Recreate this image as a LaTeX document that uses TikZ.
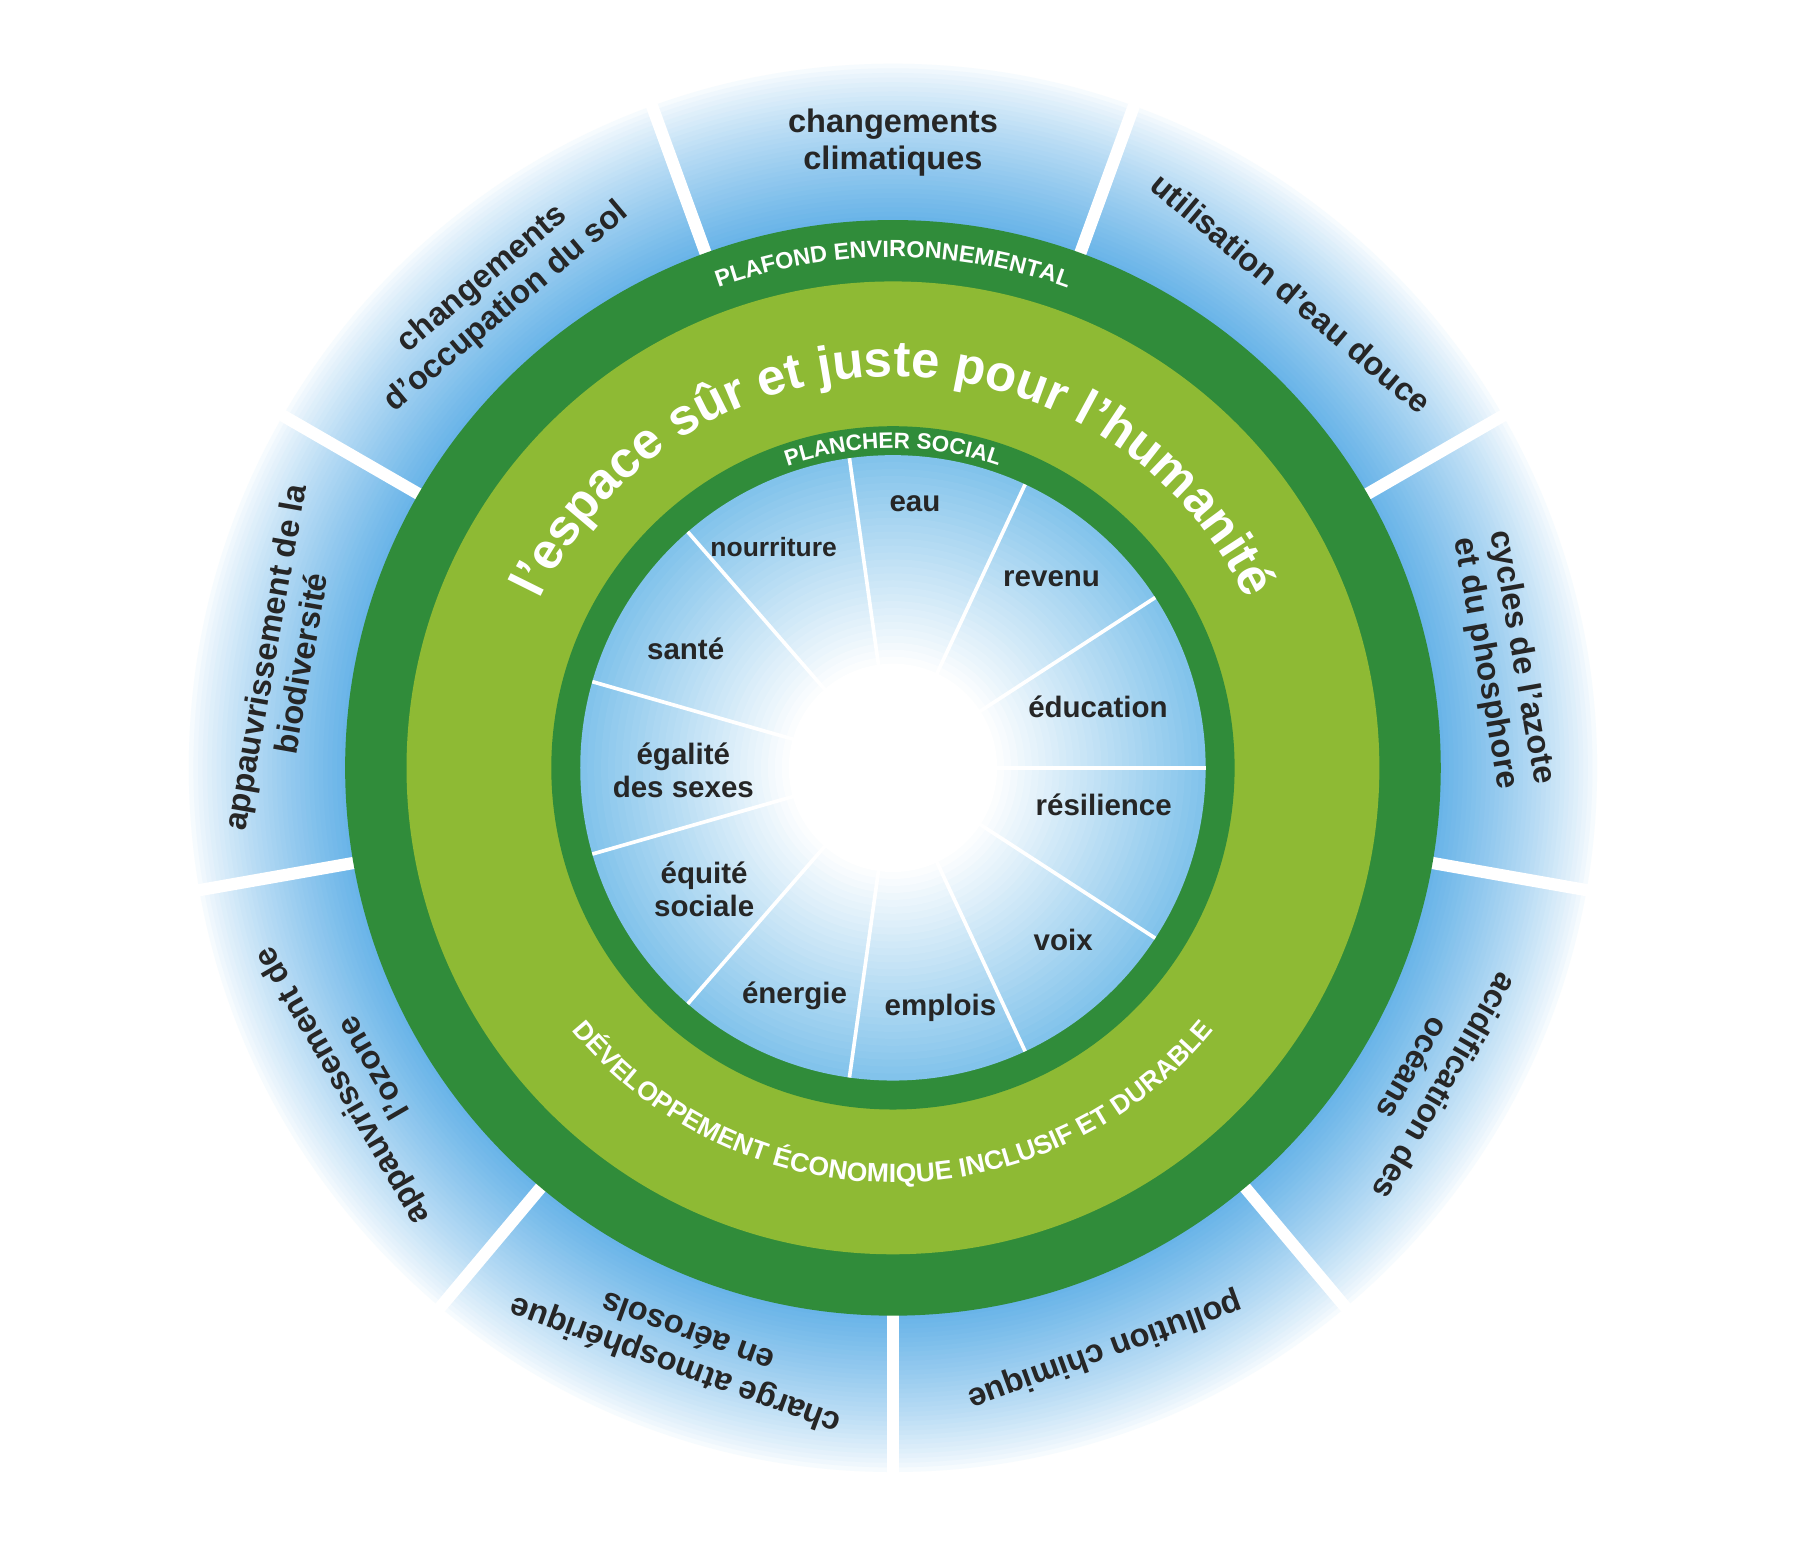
\documentclass[tikz,border=0pt]{standalone}
\usepackage{fontspec}
\setmainfont{Liberation Sans}
\usetikzlibrary{decorations.text,calc}
\definecolor{skyb}{RGB}{105,180,232}
\definecolor{innb}{RGB}{130,195,235}
\definecolor{dgreen}{RGB}{48,140,58}
\definecolor{lgreen}{RGB}{142,186,52}
\begin{document}
\begin{tikzpicture}[x=0.02cm,y=0.02cm,
  outl/.style={font=\fontsize{16}{18}\selectfont\bfseries, align=center, text=black!85},
  inl/.style={font=\fontsize{14.5}{16}\selectfont\bfseries, align=center, text=black!85},
  sep/.style={white, line width=6pt},
  spoke/.style={white, line width=1.8pt}]
\useasboundingbox (0,0) rectangle (1568,1336);
\coordinate (c) at (771,673);
% outer gradient ring: white at outer edge to blue near the green ring
\foreach \i in {0,...,34}{
  \pgfmathsetmacro{\r}{612-\i*4}
  \pgfmathsetmacro{\p}{min(100,(\i/34)^0.8*100)}
  \fill[skyb!\p!white] (c) circle[radius=\r];
}
\foreach \a in {110,70,30,-10,-50,-90,-130,-170,150}
  \draw[sep] (c) ++(\a:460) coordinate (s1) -- ++(\a:170);
\fill[dgreen] (c) circle[radius=473];
\fill[lgreen] (c) circle[radius=420];
\fill[dgreen] (c) circle[radius=295];
% inner gradient disc: blue at edge to white at centre
\foreach \i in {0,...,30}{
  \pgfmathsetmacro{\r}{270-\i*6}
  \pgfmathsetmacro{\p}{max(0,100-\i*100/30)^1}
  \fill[innb!\p!white] (c) circle[radius=\r];
}
\foreach \a in {98,65,33,0,-33,-65,-98,-131,-164,164,131}
  \draw[spoke] (c) -- ++(\a:270);
% outer labels
\node[outl, rotate=0] (l1) at ($(c)+(90:540)$) {changements\\climatiques};
\node[outl, rotate=-40] (l2) at ($(c)+(50:535)$) {utilisation d’eau douce};
\node[outl, rotate=-80] (l3) at ($(c)+(10:535)$) {cycles de l’azote\\et du phosphore};
\node[outl, rotate=-120] (l4) at ($(c)+(-30:535)$) {acidification des\\océans};
\node[outl, rotate=-160] (l5) at ($(c)+(-70:535)$) {pollution chimique};
\node[outl, rotate=-200] (l6) at ($(c)+(-110:535)$) {charge atmosphérique\\en aérosols};
\node[outl, rotate=-240] (l7) at ($(c)+(-150:535)$) {appauvrissement de\\l’ozone};
\node[outl, rotate=80] (l8) at ($(c)+(170:535)$) {appauvrissement de la\\biodiversité};
\node[outl, rotate=40] (l9) at ($(c)+(130:535)$) {changements\\d’occupation du sol};
% ring texts
\path[decorate, decoration={text along path, text align=center,
  text={|\fontsize{11.5}{12}\selectfont\bfseries\color{white}|PLAFOND ENVIRONNEMENTAL}}]
  (c) ++(150:441) arc[start angle=150, end angle=30, radius=441];
\path[decorate, decoration={text along path, text align=center,
  text={|\fontsize{25}{28}\selectfont\bfseries\color{white}|l’espace sûr et juste pour l’humanité}}]
  (c) ++(165:338) arc[start angle=165, end angle=15, radius=338];
\path[decorate, decoration={text along path, text align=center,
  text={|\fontsize{11}{12}\selectfont\bfseries\color{white}|PLANCHER SOCIAL}}]
  (c) ++(130:276) arc[start angle=130, end angle=50, radius=276];
\path[decorate, decoration={text along path, text align=center,
  text={|\fontsize{13}{14}\selectfont\bfseries\color{white}|DÉVELOPPEMENT ÉCONOMIQUE INCLUSIF ET DURABLE}}]
  (c) ++(205:358) arc[start angle=205, end angle=335, radius=358];
% inner labels
\node[inl] (eau) at (790,901) {eau};
\node[inl] (rev) at (908,836) {revenu};
\node[inl] (edu) at (948,726) {éducation};
\node[inl] (res) at (953,641) {résilience};
\node[inl] (voix) at (918,524) {voix};
\node[inl] (emp) at (812,466) {emplois};
\node[inl] (ene) at (686,476) {énergie};
\node[inl] (equ) at (608,568) {équité\\sociale};
\node[inl] (ega) at (590,671) {égalité\\des sexes};
\node[inl] (san) at (592,776) {santé};
\node[inl, font=\fontsize{13}{15}\selectfont\bfseries] (nou) at (668,864) {nourriture};
\end{tikzpicture}
\end{document}
